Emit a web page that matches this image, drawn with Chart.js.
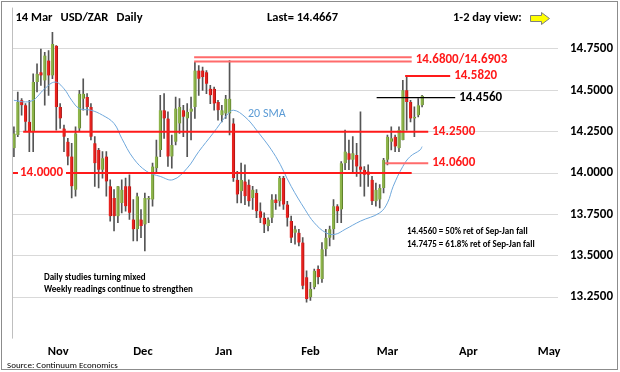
<!DOCTYPE html>
<html>
<head>
<meta charset="utf-8">
<script src="https://cdn.jsdelivr.net/npm/chart.js@4.4.1/dist/chart.umd.min.js"></script>
<style>
  html, body { margin: 0; padding: 0; background: #fff; }
  #wrap { width: 620px; height: 372px; }
</style>
</head>
<body>
<div id="wrap"><canvas id="chart" width="620" height="372"></canvas></div>
<script>
// ── DATA (trading-day index 0 = first candle, 106 = 14 Mar) ──
const opens  = [14.15,14.23,14.44,14.41,14.31,14.25,14.55,14.61,14.56,14.68,14.59,14.77,14.40,14.27,14.19,14.10,13.90,14.27,14.45,14.46,
                14.40,14.18,14.14,14.02,14.10,13.92,13.85,13.74,13.82,13.92,13.92,13.72,13.66,13.72,13.69,13.84,13.84,14.03,14.14,14.38,
                14.33,14.10,14.19,14.30,14.38,14.33,14.37,14.40,14.62,14.62,14.61,14.51,14.51,14.43,14.35,14.36,14.36,14.30,13.96,13.89,
                13.95,13.93,13.85,13.88,13.77,13.73,13.68,13.73,13.84,13.83,13.97,13.81,13.71,13.64,13.64,13.58,13.37,13.25,13.31,13.42,
                13.36,13.54,13.61,13.66,13.80,13.78,14.06,14.12,14.08,14.11,14.04,14.02,14.01,13.96,13.83,13.84,13.91,14.08,14.19,14.22,
                14.15,14.20,14.50,14.43,14.33,14.35,14.41];
const highs  = [14.28,14.49,14.45,14.42,14.44,14.60,14.66,14.75,14.73,14.74,14.85,14.77,14.42,14.29,14.21,14.18,14.28,14.50,14.57,14.48,
                14.42,14.22,14.15,14.13,14.13,13.96,13.90,13.92,13.96,13.97,13.99,13.84,13.88,13.78,13.88,13.86,14.06,14.20,14.47,14.48,
                14.37,14.23,14.46,14.45,14.41,14.42,14.46,14.67,14.65,14.64,14.62,14.53,14.52,14.44,14.41,14.47,14.68,14.33,14.01,14.06,
                14.05,13.96,13.92,13.90,13.82,13.76,13.73,13.87,13.87,13.98,13.98,13.83,13.74,13.68,13.66,13.61,13.41,13.34,13.42,13.44,
                13.58,13.66,13.68,13.84,13.81,14.07,14.26,14.20,14.22,14.18,14.37,14.04,14.05,13.98,13.94,13.93,14.09,14.23,14.28,14.23,
                14.28,14.56,14.58,14.44,14.40,14.45,14.47];
const lows   = [14.10,14.22,14.35,14.25,14.13,14.13,14.49,14.53,14.41,14.47,14.57,14.26,14.27,14.13,14.05,13.85,13.86,14.25,14.38,14.35,
                14.20,13.92,13.91,13.97,13.86,13.71,13.65,13.70,13.76,13.77,13.72,13.59,13.59,13.61,13.53,13.70,13.80,14.00,14.10,14.21,
                14.04,14.03,14.17,14.24,14.22,14.10,14.20,14.33,14.47,14.50,14.48,14.42,14.38,14.32,14.31,14.33,14.23,13.95,13.82,13.82,
                13.81,13.80,13.78,13.73,13.70,13.64,13.65,13.70,13.78,13.80,13.78,13.68,13.58,13.57,13.56,13.30,13.22,13.23,13.30,13.33,
                13.34,13.50,13.56,13.60,13.70,13.70,14.02,14.02,14.00,13.98,13.92,13.86,13.92,13.81,13.80,13.79,13.88,14.05,14.14,14.13,
                14.13,14.20,14.26,14.31,14.22,14.34,14.40];
const closes = [14.24,14.43,14.41,14.31,14.25,14.55,14.60,14.59,14.71,14.59,14.78,14.40,14.33,14.22,14.10,13.92,14.24,14.48,14.48,14.40,
                14.22,14.06,14.02,14.09,13.95,13.74,13.74,13.92,13.90,13.80,13.76,13.66,13.86,13.68,13.85,13.85,14.04,14.10,14.38,14.33,
                14.10,14.17,14.39,14.40,14.34,14.37,14.39,14.62,14.57,14.58,14.54,14.47,14.42,14.38,14.38,14.45,14.45,13.97,13.87,13.96,
                13.86,13.83,13.90,13.77,13.73,13.69,13.72,13.84,13.82,13.97,13.81,13.73,13.61,13.66,13.58,13.32,13.24,13.30,13.41,13.37,
                13.54,13.61,13.66,13.80,13.77,14.06,14.13,14.08,14.12,14.04,14.02,13.99,13.99,13.83,13.90,13.91,14.08,14.22,14.21,14.16,
                14.26,14.50,14.43,14.33,14.34,14.41,14.4667];

const smaDay = [0, 3, 5, 6, 8, 10.7, 13, 15, 17, 20, 23, 26, 28, 31, 34.5, 38, 41.3, 45, 48, 51.7, 55.3, 57, 60, 63, 68, 72, 75.6, 78, 81, 83.4, 86, 90, 95, 97, 98.5, 101, 102.9, 105.5, 106];
const smaVal = [14.44,14.43,14.44,14.46,14.51,14.55,14.51,14.44,14.39,14.38,14.35,14.30,14.21,14.09,14.01,13.98,13.96,14.03,14.13,14.24,14.35,14.38,14.34,14.26,14.10,13.92,13.78,13.70,13.64,13.63,13.66,13.71,13.76,13.82,13.92,14.04,14.10,14.14,14.16];

// month labels and the day index where each sits
const months   = ['Nov', 'Dec', 'Jan', 'Feb', 'Mar', 'Apr', 'May'];
const monthDay = [11.5, 33.5, 54.5, 77, 97, 118, 139];

const yTicks = [13.25, 13.5, 13.75, 14.0, 14.25, 14.5, 14.75];

// key levels
const levelValues = [14.700, 14.675, 14.587, 14.456, 14.25, 14.06, 14.0];
const levelFrom   = [46.8, 46.8, 101.6, 94.2, 2.4, 96.4, -0.5];
const levelTo     = [103.3, 103.3, 113.3, 114.6, 107.6, 107.6, 103.3];
const levelLabels = ['14.6800/14.6903', '', '14.5820', '14.4560', '14.2500', '14.0600', '14.0000'];

const FONT = 'Carlito, Lato, "Liberation Sans", sans-serif';
const RED = '#FF1A1A';
const PINK = '#FF6B6B';
const levelColors = [PINK, PINK, RED, '#000000', RED, PINK, RED];

// ── DATASETS ──
const up = closes.map((c, i) => c >= opens[i]);

const wicks = {
    type: 'bar',
    data: highs.map((h, i) => ({ x: i, y: [lows[i], h] })),
    backgroundColor: '#555555',
    barThickness: 1,
    grouped: false,
    order: 4
};

const bodies = {
    type: 'bar',
    data: opens.map((o, i) => ({ x: i, y: [Math.min(o, closes[i]), Math.max(o, closes[i])] })),
    backgroundColor: up.map(u => u ? '#8DB44A' : '#E8221E'),
    borderColor: up.map(u => u ? '#5E7F2C' : '#A81414'),
    borderWidth: { left: 0, right: 1, top: 0, bottom: 0 },
    borderSkipped: false,
    barThickness: 3,
    grouped: false,
    order: 3
};

const sma = {
    type: 'line',
    data: smaDay.map((d, i) => ({ x: d, y: smaVal[i] })),
    borderColor: '#6FA8DC',
    borderWidth: 1,
    pointRadius: 0,
    tension: 0.4,
    order: 2
};

const levels = levelValues.map((v, i) => ({
    type: 'line',
    data: [{ x: levelFrom[i], y: v }, { x: levelTo[i], y: v }],
    borderColor: levelColors[i],
    borderWidth: i === 3 ? 1.2 : 2,
    pointRadius: 0,
    order: 1
}));

// ── TEXT / FRAME ──
const decor = {
    id: 'decor',
    afterDraw(chart) {
        const { ctx, chartArea, scales } = chart;
        const xs = scales.x, ys = scales.y;
        ctx.save();

        // frame
        ctx.strokeStyle = '#8C8C8C';
        ctx.lineWidth = 1;
        ctx.strokeRect(1.5, 1.5, 616, 368);

        // left axis
        ctx.strokeStyle = '#BFBFBF';
        ctx.beginPath();
        ctx.moveTo(chartArea.left + 0.5, chartArea.top);
        ctx.lineTo(chartArea.left + 0.5, chartArea.bottom);
        ctx.stroke();

        ctx.fillStyle = '#000';
        ctx.textBaseline = 'middle';
        ctx.textAlign = 'left';
        ctx.font = 'bold 12.5px ' + FONT;
        ctx.fillText('14 Mar', 15.5, 18);
        ctx.fillText('USD/ZAR', 60.5, 18);
        ctx.fillText('Daily', 116.5, 18);
        ctx.fillText('Last= 14.4667', 267, 18);
        ctx.fillText('1-2 day view:', 453, 18);

        // yellow arrow
        ctx.beginPath();
        ctx.moveTo(530.5, 15.5);
        ctx.lineTo(541.5, 15.5);
        ctx.lineTo(541.5, 12.5);
        ctx.lineTo(549.5, 18.5);
        ctx.lineTo(541.5, 24.5);
        ctx.lineTo(541.5, 21.5);
        ctx.lineTo(530.5, 21.5);
        ctx.closePath();
        ctx.fillStyle = '#FFFF00';
        ctx.fill();
        ctx.strokeStyle = '#7F7F7F';
        ctx.stroke();

        // level labels
        ctx.font = 'bold 13px ' + FONT;
        levelValues.forEach((v, i) => {
            const t = levelLabels[i];
            if (!t || i === 6) return;
            ctx.fillStyle = levelColors[i] === PINK ? RED : levelColors[i];
            ctx.fillText(t, xs.getPixelForValue(levelTo[i]) + 4, ys.getPixelForValue(v) + (i === 0 ? 2 : 0));
        });
        // 14.0000 label sits on the line, left side
        const y14 = ys.getPixelForValue(levelValues[6]);
        ctx.fillStyle = '#fff';
        ctx.fillRect(18, y14 - 7, 48, 14);
        ctx.fillStyle = RED;
        ctx.fillText(levelLabels[6], 20, y14);

        // SMA label
        ctx.font = '12px ' + FONT;
        ctx.fillStyle = '#5B9BD5';
        ctx.fillText('20 SMA', 248, 114);

        // notes
        ctx.fillStyle = '#000';
        ctx.font = 'bold 9px ' + FONT;
        ctx.fillText('14.4560 = 50% ret of Sep-Jan fall', 407, 232);
        ctx.fillText('14.7475 = 61.8% ret of Sep-Jan fall', 407, 245);
        ctx.fillText('Daily studies turning mixed', 44, 278);
        ctx.fillText('Weekly readings continue to strengthen', 44, 290);

        ctx.font = '9px ' + FONT;
        ctx.fillText('Source: Continuum Economics', 7, 366);
        ctx.restore();
    }
};

new Chart(document.getElementById('chart'), {
    type: 'bar',
    data: { datasets: [wicks, bodies, sma, ...levels] },
    options: {
        responsive: false,
        animation: false,
        devicePixelRatio: 1,
        layout: { padding: { left: 12, top: 7.6, right: 0, bottom: 0 } },
        plugins: { legend: { display: false }, tooltip: { enabled: false } },
        scales: {
            x: {
                type: 'linear',
                min: -0.5,
                max: 141.3,
                offset: false,
                grid: { display: false, drawTicks: false },
                border: { display: false },
                afterBuildTicks: s => { s.ticks = monthDay.map(v => ({ value: v })); },
                afterFit: s => { s.height = 33.4; s.paddingLeft = 0; s.paddingRight = 0; },
                ticks: {
                    padding: 6,
                    autoSkip: false,
                    maxRotation: 0,
                    color: '#000',
                    font: { family: FONT, size: 12.5, weight: 'bold' },
                    callback: (v, i) => months[i]
                }
            },
            y: {
                position: 'right',
                min: 13.0,
                max: 15.0,
                grid: { color: '#D9D9D9', lineWidth: 1, drawTicks: false },
                border: { display: false },
                afterBuildTicks: s => { s.ticks = yTicks.map(v => ({ value: v })); },
                afterFit: s => { s.width = 62; s.paddingTop = 0; s.paddingBottom = 0; },
                ticks: {
                    padding: 12,
                    crossAlign: 'near',
                    color: '#000',
                    font: { family: FONT, size: 13, weight: 'bold' },
                    callback: v => v.toFixed(4)
                }
            }
        }
    },
    plugins: [decor]
});
</script>
</body>
</html>
